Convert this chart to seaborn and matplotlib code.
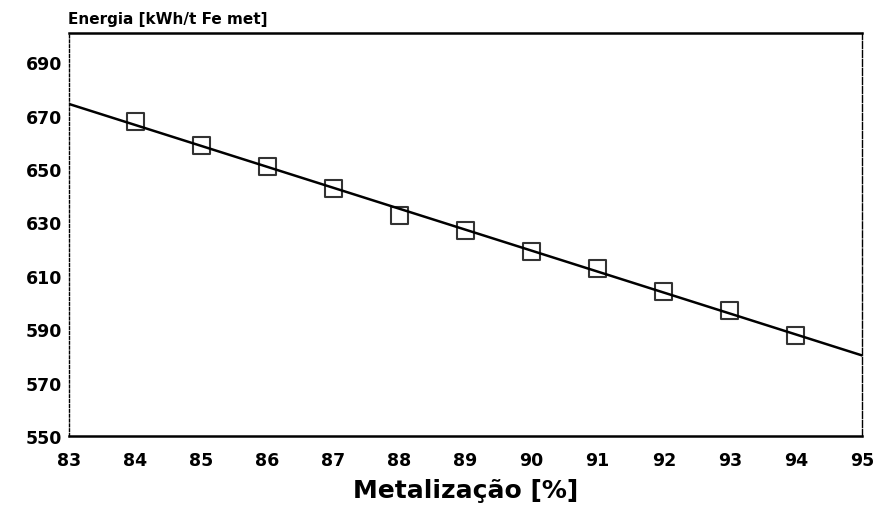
import numpy as np
import pandas as pd
import matplotlib
matplotlib.use('Agg')
import matplotlib.pyplot as plt
import seaborn as sns

# values
metalizacao = [84, 85, 86, 87, 88, 89, 90, 91, 92, 93, 94]
energia = [667.8, 658.9, 650.8, 642.8, 632.7, 627.1, 619.0, 612.8, 604.0, 596.9, 587.5]
x_ticks = list(range(83, 96))
y_ticks = list(range(550, 700, 20))

df = pd.DataFrame({'metalizacao': metalizacao, 'energia': energia})

sns.set_theme(style='white')
plt.rcParams['font.family'] = ['DejaVu Sans']
plt.rcParams['font.weight'] = 'bold'

fig = plt.figure(figsize=(8.8, 5.1), dpi=100)
ax = fig.add_axes([69 / 880, 1 - 437 / 510, (862 - 69) / 880, (437 - 34) / 510])

# limits first so the regression line runs over the whole axis
ax.set_xlim(83, 95)
ax.set_ylim(550, 701)

sns.regplot(data=df, x='metalizacao', y='energia', ax=ax, ci=None,
            truncate=False, marker='s', color='black',
            scatter_kws=dict(s=150, linewidths=1.5, zorder=3),
            line_kws=dict(lw=1.8, color='black'))
pts = ax.collections[0]
pts.set_facecolor('none')
pts.set_edgecolor('black')

ax.set_xticks(x_ticks)
ax.set_yticks(y_ticks)
ax.set_xticklabels([str(t) for t in x_ticks], fontsize=12.5, fontweight='bold')
ax.set_yticklabels([str(t) for t in y_ticks], fontsize=12.5, fontweight='bold')
ax.tick_params(axis='x', length=0, pad=11, colors='black')
ax.tick_params(axis='y', length=0, pad=5, colors='black')

ax.set_xlabel('Metalização [%]', fontsize=18, fontweight='bold', labelpad=6, color='black')
ax.set_ylabel('')

# frame: solid top/bottom, broken sides like the scan
for side in ['top', 'bottom']:
    ax.spines[side].set_color('black')
    ax.spines[side].set_linewidth(1.8)
ax.spines['left'].set_color('black')
ax.spines['left'].set_linewidth(1.0)
ax.spines['left'].set_linestyle((0, (2, 1.5)))
ax.spines['right'].set_color('black')
ax.spines['right'].set_linewidth(1.0)
ax.spines['right'].set_linestyle((0, (5, 1.5)))

fig.text(68 / 880, 1 - 24 / 510, 'Energia [kWh/t Fe met]', fontsize=11,
         fontweight='bold', ha='left', va='baseline', color='black')

fig.savefig('out.png', dpi=100, facecolor='white')
